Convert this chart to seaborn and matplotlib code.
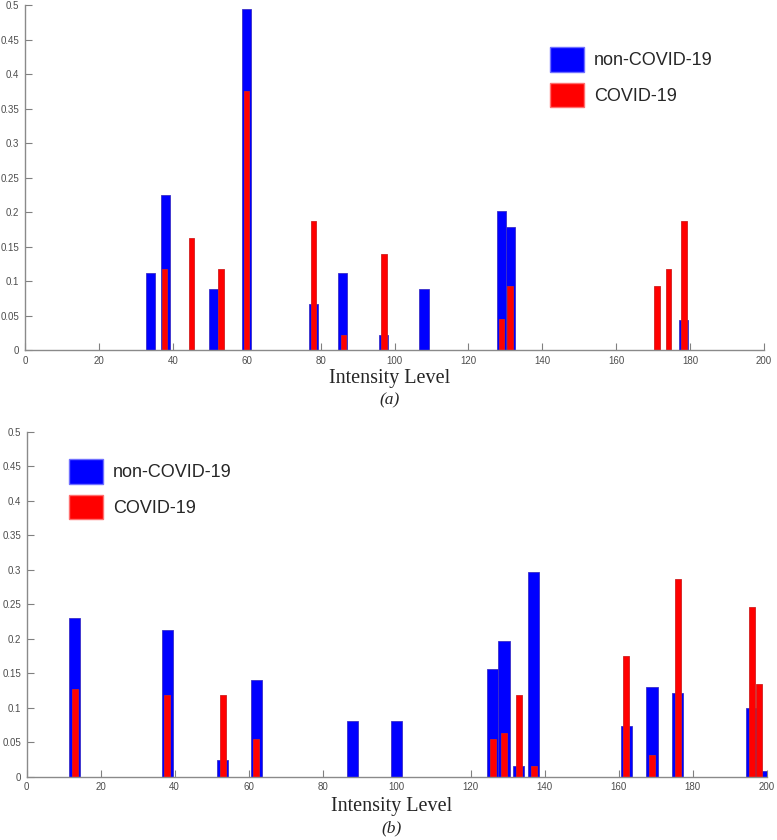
import numpy as np
import seaborn as sns
import matplotlib.pyplot as plt
from matplotlib.patches import Patch

# (a) histogram values
a_non_x = [34, 38, 51, 60, 78, 86, 97, 108, 129, 131.3, 178.3]
a_non_y = [0.111, 0.224, 0.088, 0.494, 0.066, 0.111, 0.022, 0.089, 0.201, 0.178, 0.044]
a_cov_x = [37.8, 45, 53, 60, 78.1, 86.2, 97.1, 129, 131.3, 171.1, 174.2, 178.3]
a_cov_y = [0.117, 0.163, 0.117, 0.375, 0.187, 0.022, 0.139, 0.045, 0.093, 0.093, 0.117, 0.187]

# (b)
b_non_x = [13, 38, 53, 62, 88, 100, 126, 129, 133, 137, 162, 169, 176, 196, 200]
b_non_y = [0.230, 0.213, 0.024, 0.140, 0.081, 0.081, 0.156, 0.197, 0.015, 0.297,
           0.073, 0.130, 0.122, 0.099, 0.008]
b_cov_x = [13, 38, 53, 62, 126, 129, 133, 137, 162, 169, 176, 196, 198]
b_cov_y = [0.127, 0.119, 0.119, 0.055, 0.055, 0.063, 0.119, 0.015, 0.175, 0.031,
           0.287, 0.246, 0.135]

labels = ['non-COVID-19', 'COVID-19']
panels = ['(a)', '(b)']

sns.set_style('white')
plt.rcParams['font.family'] = ['Liberation Sans', 'DejaVu Sans']

fig = plt.figure(figsize=(7.77, 8.4), dpi=100)
ax1 = fig.add_axes([0.0322, 0.5833, 0.9511, 0.4107])
ax2 = fig.add_axes([0.0343, 0.0754, 0.9524, 0.4106])


def bars(ax, x, y, w, face, edge):
    # seaborn scales width by the smallest gap between x values on a native scale
    gap = np.min(np.diff(np.unique(x)))
    sns.barplot(x=x, y=y, ax=ax, native_scale=True, orient='x', errorbar=None,
                width=w / gap, color=face, saturation=1,
                edgecolor=edge, linewidth=0.6)


bars(ax1, a_non_x, a_non_y, 2.5, '#0000ff', '#3a30c8')
bars(ax1, a_cov_x, a_cov_y, 1.5, '#ff0000', '#d02020')
bars(ax2, b_non_x, b_non_y, 3.0, '#0000ff', '#3a30c8')
bars(ax2, b_cov_x, b_cov_y, 1.6, '#ff0000', '#d02020')

for ax in (ax1, ax2):
    ax.set_xlim(0, 200)
    ax.set_ylim(0, 0.5)
    ax.set_xticks(np.arange(0, 201, 20))
    ax.set_yticks(np.arange(0, 0.51, 0.05))
    ax.set_xticklabels([str(v) for v in range(0, 201, 20)])
    ax.set_yticklabels(['0'] + ['%g' % round(v, 2) for v in np.arange(0.05, 0.51, 0.05)])
    ax.tick_params(bottom=True, left=True, direction='in', length=5, width=0.8,
                   color='#808080', labelsize=7, labelcolor='#4d4d4d', pad=4)
    sns.despine(ax=ax)
    for s in ('left', 'bottom'):
        ax.spines[s].set_color('#8a8a8a')
        ax.spines[s].set_linewidth(1.0)
    ax.set_xlabel('')
    ax.set_ylabel('')

handles = [Patch(facecolor='#0000ff', edgecolor='#7070ff'),
           Patch(facecolor='#ff0000', edgecolor='#ff7070')]
for ax, anchor in ((ax1, (0.7079, 0.944)), (ax2, (0.0888, 0.4536))):
    ax.legend(handles, labels, loc='upper left', bbox_to_anchor=anchor,
              bbox_transform=fig.transFigure, frameon=False, fontsize=13,
              handlelength=1.9, handleheight=1.72, handletextpad=0.55,
              labelspacing=0.62, borderpad=0, borderaxespad=0)

serif = ['Liberation Serif', 'DejaVu Serif']
fig.text(390 / 777, 1 - 379 / 840, 'Intensity Level', ha='center', va='center',
         family=serif, fontsize=14.5)
fig.text(390 / 777, 1 - 400 / 840, panels[0], ha='center', va='center',
         family=serif, style='italic', fontsize=12.5)
fig.text(392 / 777, 1 - 807 / 840, 'Intensity Level', ha='center', va='center',
         family=serif, fontsize=14.5)
fig.text(392 / 777, 1 - 828 / 840, panels[1], ha='center', va='center',
         family=serif, style='italic', fontsize=12.5)

fig.savefig('out.png', dpi=100)
